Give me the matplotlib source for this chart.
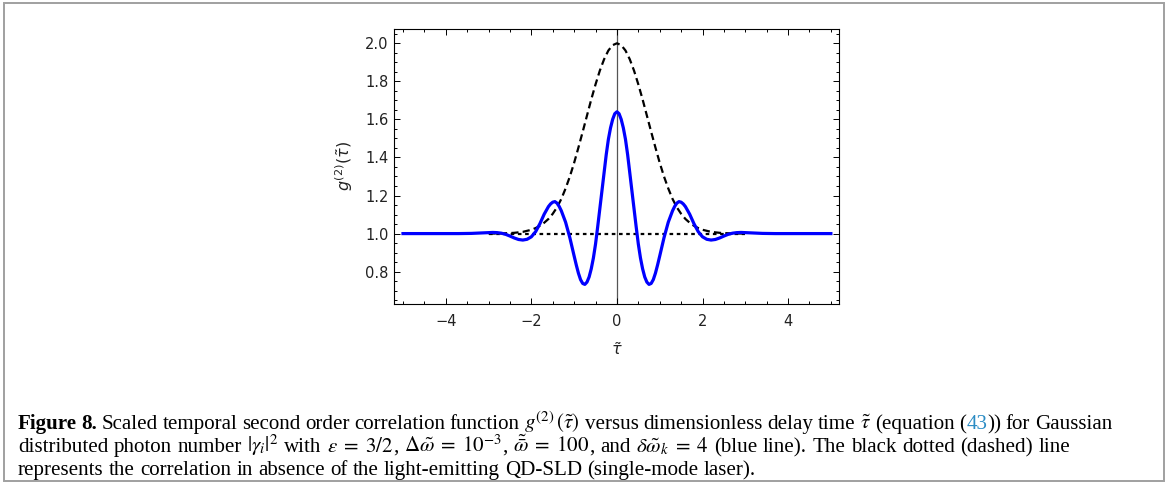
import matplotlib
matplotlib.use("Agg")
import matplotlib.pyplot as plt
from matplotlib.patches import Rectangle
from matplotlib.ticker import MultipleLocator

# ---------------- data ----------------
tau_blue = [-5.0, -3.7, -3.4, -3.2, -3.0, -2.9, -2.8, -2.7, -2.6, -2.5, -2.4, -2.3,
            -2.2, -2.1, -2.0, -1.9, -1.8, -1.7, -1.6, -1.55, -1.5, -1.45, -1.4, -1.35,
            -1.3, -1.2, -1.1,
            -1.0, -0.95, -0.9, -0.85, -0.8, -0.75, -0.7, -0.65, -0.6, -0.55, -0.5,
            -0.45, -0.4, -0.35, -0.3, -0.25, -0.2, -0.15, -0.1, -0.05,
            0.0,
            0.05, 0.1, 0.15, 0.2, 0.25, 0.3, 0.35, 0.4, 0.45, 0.5, 0.55, 0.6, 0.65,
            0.7, 0.75, 0.8, 0.85, 0.9, 0.95, 1.0,
            1.1, 1.2, 1.3, 1.35, 1.4, 1.45, 1.5, 1.55, 1.6, 1.7, 1.8, 1.9, 2.0, 2.1,
            2.2, 2.3, 2.4, 2.5, 2.6, 2.7, 2.8, 2.9, 3.0, 3.2, 3.4, 3.7, 5.0]
g2_blue = [1.000, 1.000, 1.001, 1.003, 1.005, 1.006, 1.005, 1.002, 0.996, 0.987, 0.977, 0.969,
           0.966, 0.970, 0.983, 1.010, 1.052, 1.102, 1.142, 1.156, 1.165, 1.168, 1.160, 1.143,
           1.120, 1.060, 0.978,
           0.882, 0.835, 0.792, 0.758, 0.738, 0.733, 0.745, 0.772, 0.815, 0.872, 0.945,
           1.035, 1.130, 1.225, 1.320, 1.415, 1.495, 1.555, 1.600, 1.630,
           1.640,
           1.630, 1.600, 1.555, 1.495, 1.415, 1.320, 1.225, 1.130, 1.035, 0.945, 0.872, 0.815, 0.772,
           0.745, 0.733, 0.738, 0.758, 0.792, 0.835, 0.882,
           0.978, 1.060, 1.120, 1.143, 1.160, 1.168, 1.165, 1.156, 1.142, 1.102, 1.052, 1.010, 0.983, 0.970,
           0.966, 0.969, 0.977, 0.987, 0.996, 1.002, 1.005, 1.006, 1.005, 1.003, 1.001, 1.000, 1.000]

tau_dashed = [-3.0, -2.8, -2.6, -2.4, -2.2, -2.0, -1.9, -1.8, -1.7, -1.6, -1.5, -1.4,
              -1.3, -1.2, -1.1, -1.0, -0.9, -0.8, -0.7, -0.6, -0.5, -0.4, -0.3, -0.2, -0.1,
              0.0,
              0.1, 0.2, 0.3, 0.4, 0.5, 0.6, 0.7, 0.8, 0.9, 1.0, 1.1, 1.2, 1.3,
              1.4, 1.5, 1.6, 1.7, 1.8, 1.9, 2.0, 2.2, 2.4, 2.6, 2.8, 3.0]
g2_dashed = [1.000, 1.0005, 1.0015, 1.004, 1.009, 1.020, 1.029, 1.041, 1.057, 1.077, 1.104, 1.138,
             1.182, 1.237, 1.300, 1.372, 1.452, 1.535, 1.620, 1.705, 1.784, 1.856, 1.916, 1.962, 1.990,
             2.000,
             1.990, 1.962, 1.916, 1.856, 1.784, 1.705, 1.620, 1.535, 1.452, 1.372, 1.300, 1.237, 1.182,
             1.138, 1.104, 1.077, 1.057, 1.041, 1.029, 1.020, 1.009, 1.004, 1.0015, 1.0005, 1.000]

tau_dotted = [-3.0, 3.0]
g2_dotted = [1.0, 1.0]

xticks = [-4, -2, 0, 2, 4]
yticks = [0.8, 1.0, 1.2, 1.4, 1.6, 1.8, 2.0]

# ---------------- figure ----------------
plt.rcParams['lines.scale_dashes'] = False
W, H = 1168, 484
fig = plt.figure(figsize=(W / 100, H / 100), dpi=100)

# outer frame
fig.patches.append(Rectangle((4 / W, 3 / H), (W - 8) / W, (H - 6) / H,
                             transform=fig.transFigure, fill=False,
                             edgecolor='#a0a0a0', linewidth=1.4))

ax = fig.add_axes([394 / W, (H - 304) / H, (839 - 394) / W, (304 - 29) / H])
ax.axvline(0, color='#555555', linewidth=0.9, zorder=1)
ax.plot(tau_dashed, g2_dashed, color='black', linewidth=1.6, dashes=(5.2, 3.0), zorder=2)
ax.plot(tau_dotted, g2_dotted, color='black', linewidth=1.6, dashes=(2.6, 2.6), zorder=2)
ax.plot(tau_blue, g2_blue, color='#0000ff', linewidth=2.3, zorder=3,
        solid_joinstyle='round')

ax.set_xlim(-5.21, 5.19)
ax.set_ylim(0.63, 2.075)
ax.set_xticks(xticks)
ax.set_yticks(yticks)
ax.xaxis.set_minor_locator(MultipleLocator(0.5))
ax.yaxis.set_minor_locator(MultipleLocator(0.05))
ax.tick_params(which='both', direction='in', top=True, right=True, width=0.7,
               labelsize=10.5, labelcolor='#222222')
ax.tick_params(which='major', length=4.5)
ax.tick_params(which='minor', length=2.5)
ax.tick_params(axis='x', which='major', pad=7)
ax.tick_params(axis='y', which='major', pad=4)
for s in ax.spines.values():
    s.set_linewidth(0.8)

ax.set_xlabel(r'$\tilde{\tau}$', fontsize=11.5, labelpad=9, math_fontfamily='dejavusans',
              color='#222222')
ax.set_ylabel(r'$g^{(2)}(\tilde{\tau})$', fontsize=11.5, labelpad=7, math_fontfamily='dejavusans',
              color='#222222')

# ---------------- caption ----------------
serif = 'Liberation Serif'
link = '#2b8cc4'
B = dict(weight='bold')
L = dict(color=link)
renderer = fig.canvas.get_renderer()


def words(s, kw=None):
    return [[(w, kw or {})] for w in s.split()]


line1 = (words('Figure 8.', B)
         + words('Scaled temporal second order correlation function')
         + [[(r'$g^{(2)}\,(\tilde{\tau})$', {})]]
         + words('versus dimensionless delay time')
         + [[(r'$\tilde{\tau}$', {})]]
         + [[('(equation', {})], [('(', {}), ('43', L), ('))', {})]]
         + words('for Gaussian'))
line2 = (words('distributed photon number')
         + [[(r'$|\gamma_i|^2$', {})]]
         + words('with')
         + [[(r'$\epsilon\;=\;3/2$', {}), (',', {})]]
         + [[(r'$\mathit{\Delta}\tilde{\omega}\;=\;10^{-3}$', {}), (',', {})]]
         + [[(r'$\tilde{\bar{\omega}}\;=\;100$', {}), (',', {})]]
         + words('and')
         + [[(r'$\delta\tilde{\omega}_k\;=\;4$', {})]]
         + words('(blue line). The black dotted (dashed) line'))
line3 = words('represents the correlation in absence of the light-emitting QD-SLD (single-mode laser).')


def measure(piece_list, fs):
    tot = 0.0
    for txt, kw in piece_list:
        t = fig.text(0, 0, txt, fontsize=fs, family=serif, math_fontfamily='stix', **kw)
        tot += t.get_window_extent(renderer).width
        t.remove()
    return tot


def space_w(fs):
    return measure([('a a', {})], fs) - measure([('aa', {})], fs)


def put_words(x0, x1, base_px, wlist, fs, justify=True):
    widths = [measure(w, fs) for w in wlist]
    if justify:
        gap = (x1 - x0 - sum(widths)) / (len(wlist) - 1)
    else:
        gap = space_w(fs)
    x = x0
    y = (H - base_px) / H
    for w, wd in zip(wlist, widths):
        xx = x
        for txt, kw in w:
            t = fig.text(xx / W, y, txt, fontsize=fs, family=serif, va='baseline',
                         ha='left', math_fontfamily='stix', **kw)
            xx += t.get_window_extent(renderer).width
        x += wd + gap


def natural_width(wlist, fs):
    return sum(measure(w, fs) for w in wlist) + space_w(fs) * (len(wlist) - 1)


X0 = 18
# font size chosen so that the plain third line spans the reference width
fs0 = 12.0
fs = fs0 * (753 - X0) / natural_width(line3, fs0)

put_words(X0, 1112, 429, line1, fs, justify=True)
put_words(X0, 1070, 452, line2, fs, justify=True)
put_words(X0, 753, 475, line3, fs, justify=False)

fig.savefig('out.png', dpi=100)
